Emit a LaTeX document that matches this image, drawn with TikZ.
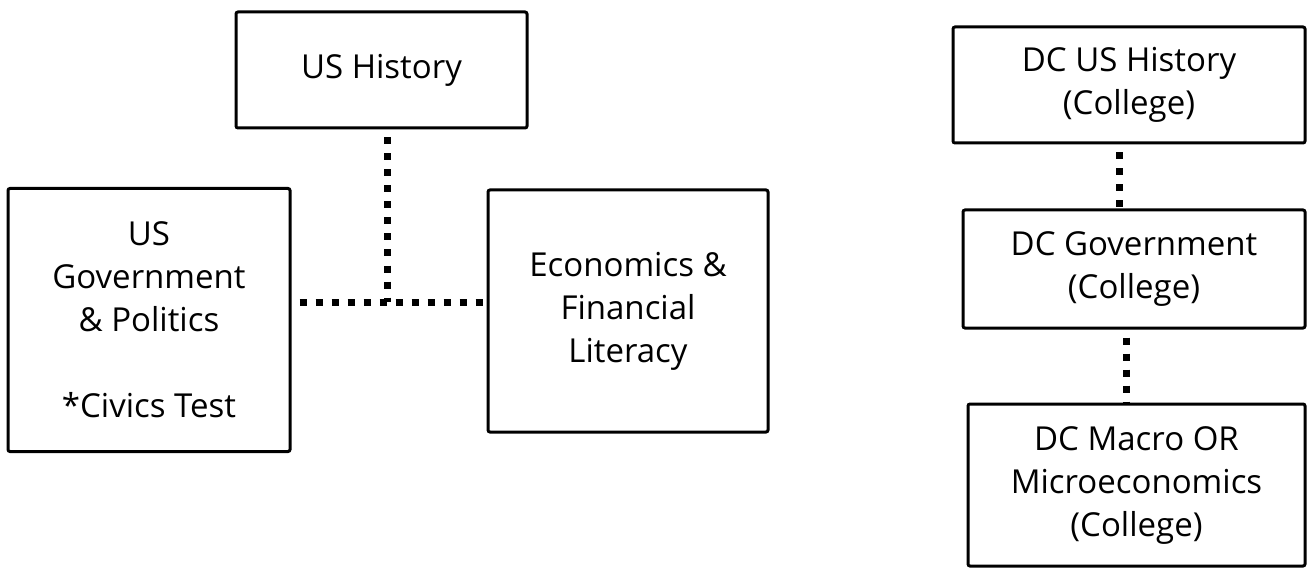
\documentclass[tikz,border=0pt]{standalone}
\usepackage{fontspec}
\setmainfont{Open Sans}
\usepackage{tikz}
\tikzset{
  course/.style={draw=black, line width=3pt, rounded corners=2pt, align=center,
    inner sep=0pt, font=\fontsize{33}{43}\selectfont},
  dots/.style={line width=7pt, dash pattern=on 7pt off 9pt, shorten <=8pt}
}

\begin{document}
\begin{tikzpicture}[x=1pt, y=-1pt]
  \useasboundingbox (0, 0) rectangle (1308, 569);

  % high school track
  \node[course, minimum width=291pt, minimum height=116pt] (hist) at (381.5, 70) {US History};
  \node[course, minimum width=282pt, minimum height=263pt] (gov) at (149, 320)
    {US\\Government\\\& Politics\\[43pt]*Civics Test};
  \node[course, minimum width=280pt, minimum height=242pt] (econ) at (628, 311)
    {Economics \&\\Financial\\Literacy};

  \coordinate (join) at (387, 302);
  \draw[dots] (join |- hist.south) -- (join);
  \draw[dots] (gov.east |- join) -- (econ.west |- join);

  % dual credit track
  \node[course, minimum width=352pt, minimum height=116pt] (dchist) at (1129, 85)
    {DC US History\\(College)};
  \node[course, minimum width=342pt, minimum height=118pt] (dcgov) at (1134, 269)
    {DC Government\\(College)};
  \node[course, minimum width=337pt, minimum height=162pt] (dcecon) at (1136.5, 485)
    {DC Macro OR\\Microeconomics\\(College)};

  \draw[dots] ([xshift=-10pt]dchist.south) -- ([xshift=-10pt]dchist.south |- dcgov.north);
  \draw[dots] ([xshift=-8pt]dcgov.south) -- ([xshift=-8pt]dcgov.south |- dcecon.north);
\end{tikzpicture}
\end{document}
